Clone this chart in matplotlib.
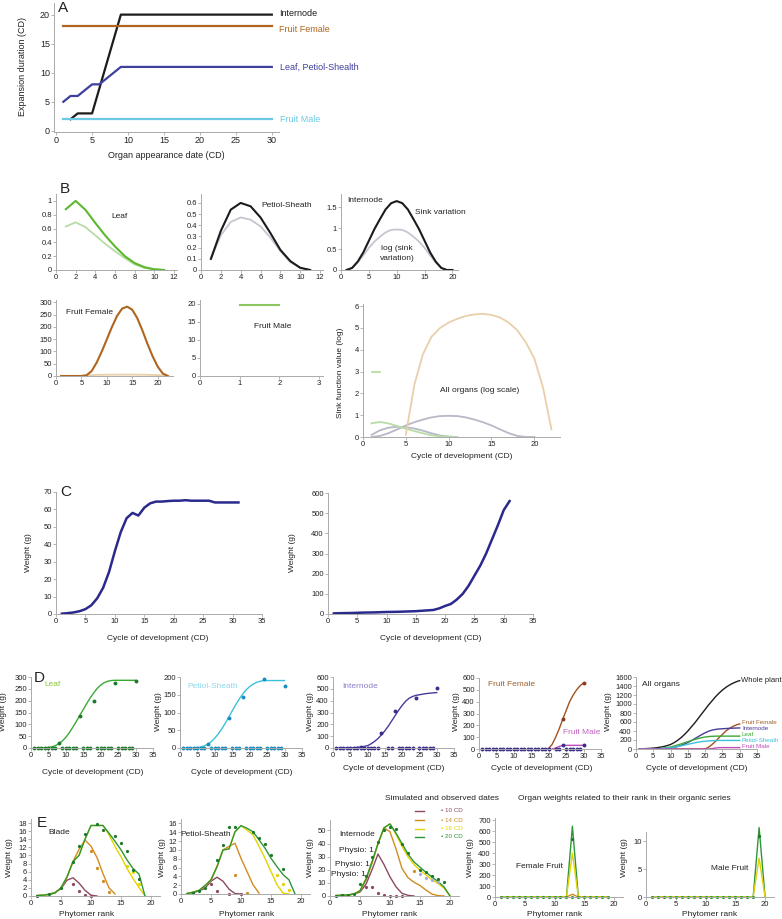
import matplotlib
matplotlib.use("Agg")
import matplotlib.pyplot as plt
from matplotlib.lines import Line2D
from matplotlib.ticker import FuncFormatter

plt.rcParams["font.family"] = ["Liberation Sans", "DejaVu Sans"]

# ---------------- data ----------------
# A: expansion duration vs organ appearance date
a_int_x = [2, 3, 5, 9, 30]
a_int_y = [2, 3, 3, 20, 20]
a_ff_x = [1, 30]
a_ff_y = [18, 18]
a_leaf_x = [1, 2, 3, 5, 6, 9, 30]
a_leaf_y = [5, 6, 6, 8, 8, 11, 11]
a_fm_x = [1, 30]
a_fm_y = [2, 2]

# B: sink variation and its log
b_leaf_x = list(range(1, 12))
b_leaf = [0.88, 1.0, 0.87, 0.68, 0.5, 0.34, 0.2, 0.1, 0.04, 0.01, 0]
b_leaf_log = [0.63, 0.69, 0.62, 0.5, 0.38, 0.27, 0.17, 0.08, 0.03, 0.01, 0]
b_pet_x = list(range(1, 12))
b_pet = [0.1, 0.35, 0.54, 0.6, 0.57, 0.47, 0.33, 0.18, 0.08, 0.02, 0]
b_pet_log = [0.1, 0.31, 0.43, 0.47, 0.45, 0.39, 0.29, 0.17, 0.07, 0.02, 0]
b_int_x = list(range(1, 21))
b_int = [0, 0.05, 0.2, 0.42, 0.7, 0.98, 1.22, 1.45, 1.6, 1.65,
         1.6, 1.45, 1.22, 0.98, 0.7, 0.42, 0.2, 0.05, 0, 0]
b_int_log = [0, 0.05, 0.18, 0.35, 0.53, 0.68, 0.8, 0.9, 0.96, 0.97,
             0.96, 0.9, 0.8, 0.68, 0.53, 0.35, 0.18, 0.05, 0, 0]
b_ff_x = list(range(1, 23))
b_ff = [0, 0, 0, 0, 0, 3, 20, 55, 100, 150, 200, 245, 275, 283,
        270, 235, 185, 130, 80, 38, 10, 0]
b_ff_log_x = list(range(5, 23))
b_ff_log = [0.1, 2.4, 3.8, 4.6, 5.0, 5.25, 5.42, 5.55, 5.62, 5.65,
            5.6, 5.48, 5.25, 4.9, 4.35, 3.6, 2.3, 0.35]
b_fm_x = [1, 2]
b_fm = [19.6, 19.6]
b_fm_log = [3.0, 3.0]

# C: whole plant weights
c_x = list(range(1, 32))
c_left = [0.2, 0.5, 0.9, 1.6, 2.8, 5, 9, 15, 24, 36, 47, 55, 58, 56.5, 61, 63.5,
          64.5, 64.5, 64.8, 65, 65, 65.3, 65, 65, 65, 65, 64, 64, 64, 64, 64]
c_right = [3, 4, 4.5, 5, 6, 7, 7.5, 8, 9, 10, 10.5, 11, 12, 13, 14, 16, 18, 20,
           28, 40, 50, 72, 100, 140, 190, 240, 300, 370, 440, 515, 560]

# D: organ weights vs cycle
cd = list(range(1, 31))
d_leaf = [0, 0.3, 0.6, 1, 2, 5, 10, 18, 30, 45, 65, 88, 112, 138, 163, 188, 212,
          233, 252, 266, 276, 282, 285, 286, 286, 286, 286, 286, 286, 286]
d_pet = [0, 0, 0.2, 0.5, 1, 3, 6, 11, 18, 28, 40, 54, 70, 87, 105, 122, 138, 152,
         164, 173, 180, 185, 188, 190, 190, 190, 190, 190, 190, 190]
d_int = [0, 0, 0.5, 1, 2, 3, 5, 8, 13, 20, 35, 55, 80, 110, 145, 185, 230, 275,
         320, 360, 395, 420, 435, 445, 450, 455, 460, 463, 466, 468]
d_ff = [0] * 19 + [5, 40, 100, 170, 250, 325, 400, 455, 500, 535, 558]
d_fm = [0] * 21 + [8, 22, 30, 31, 31, 31, 31, 31, 31]
d_wp = [5, 7, 10, 14, 20, 28, 40, 55, 75, 100, 140, 190, 250, 320, 400, 490, 580,
        680, 780, 880, 980, 1070, 1160, 1240, 1310, 1370, 1420, 1460, 1495, 1520]
obs_x = [8, 14, 18, 24, 30]
d_leaf_obs = [20, 135, 200, 275, 285]
d_pet_obs = [10, 85, 145, 195, 175]
d_int_obs = [5, 130, 310, 420, 505]
fr_obs_x = [24, 30]
d_ff_obs = [250, 555]
d_fm_obs = [33, 33]
zero_leaf = [1, 2, 3, 4, 5, 6, 7, 9, 10, 11, 12, 13, 15, 16, 17,
             19, 20, 21, 22, 23, 25, 26, 27, 28, 29]
zero_int = [1, 2, 3, 4, 5, 6, 7, 8, 9, 10, 11, 12, 13, 16, 17,
            19, 20, 21, 22, 23, 25, 26, 27, 28, 29]
zero_fr = list(range(1, 21)) + [22, 23, 25, 26, 27, 28, 29]

# E: organ weights vs phytomer rank at 10, 14, 18, 20 CD
e1_10 = [0.1, 0.2, 0.4, 0.9, 1.8, 3.9, 4.5, 3.2, 1.4, 0.2, 0]
e1_14 = [0.1, 0.2, 0.4, 0.8, 2.0, 4.6, 8.5, 11.5, 13.8, 12.3, 9.5, 5.5, 2.0, 0.5]
e1_18 = [0.1, 0.2, 0.4, 0.75, 2.0, 4.7, 8.5, 10.0, 14.0, 17.4, 17.4, 17.4,
         15.1, 12.2, 9.7, 6.8, 4.3, 2.1, 0]
e1_20 = [0.1, 0.2, 0.4, 0.75, 2.0, 4.7, 8.5, 10.0, 14.0, 17.4, 17.4, 17.4,
         15.5, 13.5, 11.4, 8.9, 6.8, 5.4, 0]
e1_g_x = [1, 3, 5, 7, 8, 9, 11, 12, 14, 15, 16, 17, 18]
e1_g = [0.1, 0.4, 2.0, 8.5, 12.3, 15.3, 17.7, 16.4, 14.9, 13.1, 11.0, 6.5, 4.3]
e1_m_x = [7, 8, 9, 10]
e1_m = [2.9, 1.2, 0.2, 0]
e1_o_x = [10, 11, 12, 13]
e1_o = [11.2, 7.0, 3.7, 0.9]
e1_y_x = [16, 17, 18]
e1_y = [7.5, 6.0, 3.0]

e2_10 = [0.1, 0.3, 0.7, 1.3, 2.9, 3.8, 2.9, 1.1, 0.1, 0]
e2_14 = [0.1, 0.4, 0.8, 1.9, 3.2, 6.2, 10.0, 10.8, 11.5, 8.1, 5.1, 2.1, 0.2]
e2_18 = [0.1, 0.4, 0.8, 1.9, 3.2, 6.2, 10.0, 10.2, 14.1, 15.5, 14.5, 13.4,
         10.8, 8.1, 5.1, 2.1, 0.2, 0]
e2_20 = [0.1, 0.4, 0.8, 1.9, 3.2, 6.2, 10.0, 10.2, 14.1, 15.5, 14.9, 14.1,
         12.3, 10.4, 8.1, 6.2, 4.4, 3.2, 0]
e2_g_x = [2, 3, 4, 6, 7, 8, 9, 12, 13, 14, 15, 17]
e2_g = [0.3, 0.6, 1.3, 7.8, 11.2, 15.2, 15.3, 14.0, 12.8, 11.4, 8.8, 5.7]
e2_m_x = [5, 6, 8, 10]
e2_m = [2.2, 0.6, 0, 0]
e2_o_x = [9, 11]
e2_o = [4.2, 0.2]
e2_y_x = [16, 17, 18]
e2_y = [4.4, 2.3, 1.0]

e3_10 = [0.3, 0.5, 0.8, 1.5, 3, 9, 20, 32, 24, 14.6, 7, 2, 0.5, 0]
e3_14 = [0.3, 0.5, 0.8, 1.5, 4, 12, 25, 40, 52, 49, 36, 21, 14, 10.5, 8,
         4.5, 1.5, 0.3, 0]
e3_18 = [0.3, 0.5, 0.8, 1.5, 4, 13, 26, 40, 52, 55, 47, 38, 30, 24, 19.5,
         16, 12.5, 9.5, 6, 0]
e3_20 = [0.3, 0.5, 0.8, 1.5, 4, 13, 26, 40, 52, 55, 48, 40, 32, 26, 22,
         18, 14.5, 11, 7, 0]
e3_g_x = [1, 2, 3, 4, 5, 6, 7, 8, 9, 10, 11, 12, 13, 15, 16, 17, 18, 19]
e3_g = [0.3, 0.5, 0.8, 1.5, 9, 15, 30, 41, 50, 53, 51, 40, 33, 20, 18, 15, 13, 11]
e3_m_x = [6, 7, 8, 9, 10, 11, 12]
e3_m = [7, 7, 2, 1, 0.3, 0.3, 0.3]
e3_o_x = [14]
e3_o = [19]
e3_y_x = [15, 16, 17, 18]
e3_y = [17, 14, 12, 11]

ranks19 = list(range(1, 20))
e4_20 = [0] * 12 + [645] + [0] * 6
e4_18 = [0] * 12 + [400] + [0] * 6
e4_14 = [0] * 12 + [25] + [0] * 6
e4_obs_x = [13]
e4_obs = [530]
ranks20 = list(range(1, 21))
e5_20 = [0] * 18 + [12.5, 0]
e5_18 = [0] * 18 + [7, 0]
e5_obs_x = [19]
e5_obs = [11]

# ---------------- colours ----------------
c_black = "#1c1c1c"
c_brown = "#b0651e"
c_blue = "#3f3f9e"
c_lblue = "#6cc8e4"
c_green = "#5cb82e"
c_lgreen = "#b8dca6"
c_lgray = "#c6c6d2"
c_lbrown = "#e9cfaa"
c_navy = "#2a2a8c"
col10, col14, col18, col20 = "#8a4a60", "#d08c20", "#e2d400", "#2e9638"

W, H = 782, 919
fig = plt.figure(figsize=(W / 100, H / 100), dpi=100)
fmt = FuncFormatter(lambda v, p: f"{v:g}")


def box(l, t, r, b):
    return fig.add_axes([l / W, 1 - b / H, (r - l) / W, (b - t) / H])


def txt(x, y, s, size=6, color="#222222", ha="center", **kw):
    fig.text(x / W, 1 - y / H, s, fontsize=size, color=color, ha=ha, va="center", **kw)


def style(ax, xlim, ylim, xticks, yticks, size=5.5):
    ax.set_xlim(*xlim)
    ax.set_ylim(*ylim)
    ax.set_xticks(xticks)
    ax.set_yticks(yticks)
    ax.xaxis.set_major_formatter(fmt)
    ax.yaxis.set_major_formatter(fmt)
    for s in ["top", "right"]:
        ax.spines[s].set_visible(False)
    for s in ["left", "bottom"]:
        ax.spines[s].set_color("#aaaaaa")
        ax.spines[s].set_linewidth(0.7)
    ax.tick_params(length=2, width=0.5, color="#999999", labelsize=size, pad=1,
                   labelcolor="#222222")
    ax.patch.set_alpha(0)


# ---------------- A ----------------
ax = box(54, 3, 279, 132)
style(ax, (-0.3, 31), (-0.2, 22), range(0, 31, 5), range(0, 21, 5), 6.5)
ax.plot(a_int_x, a_int_y, color=c_black, lw=1.6)
ax.plot(a_ff_x, a_ff_y, color=c_brown, lw=1.6)
ax.plot(a_leaf_x, a_leaf_y, color=c_blue, lw=1.6)
ax.plot(a_fm_x, a_fm_y, color=c_lblue, lw=1.6)
txt(58, 8, "A", 11, ha="left")
txt(279, 14, "Internode", 6.5, c_black, ha="left")
txt(279, 29, "Fruit Female", 6.5, c_brown, ha="left")
txt(280, 67, "Leaf, Petiol-Shealth", 6.5, c_blue, ha="left")
txt(280, 119, "Fruit Male", 6.5, c_lblue, ha="left")
txt(23, 67, "Expansion duration (CD)", 6.5, rotation=90)
txt(166, 155, "Organ appearance date (CD)", 6.5)

# ---------------- B ----------------
ax = box(56, 194, 177, 270)
style(ax, (0, 12.3), (0, 1.1), range(0, 13, 2), [0, 0.2, 0.4, 0.6, 0.8, 1])
ax.plot(b_leaf_x, b_leaf_log, color=c_lgreen, lw=1.3)
ax.plot(b_leaf_x, b_leaf, color=c_green, lw=1.5)
txt(60, 189, "B", 11, ha="left")
txt(120, 216, "Leaf")

ax = box(201, 194, 323, 270)
style(ax, (0, 12.3), (0, 0.68), range(0, 13, 2), [0, 0.1, 0.2, 0.3, 0.4, 0.5, 0.6])
ax.plot(b_pet_x, b_pet_log, color=c_lgray, lw=1.3)
ax.plot(b_pet_x, b_pet, color=c_black, lw=1.5)
txt(287, 206, "Petiol-Sheath")

ax = box(341, 194, 458, 270)
style(ax, (0, 21), (0, 1.82), range(0, 21, 5), [0, 0.5, 1, 1.5])
ax.plot(b_int_x, b_int_log, color=c_lgray, lw=1.3)
ax.plot(b_int_x, b_int, color=c_black, lw=1.5)
txt(365, 201, "Internode")
txt(440, 212, "Sink variation")
txt(397, 249, "log (sink")
txt(397, 259, "variation)")

ax = box(56, 300, 173, 376)
style(ax, (0, 23), (0, 310), range(0, 21, 5), range(0, 301, 50))
ax.plot(b_ff_log_x, b_ff_log, color=c_lbrown, lw=1.3)
ax.plot(b_ff_x, b_ff, color=c_brown, lw=1.5)
txt(89, 313, "Fruit Female")

ax = box(200, 300, 323, 376)
style(ax, (0, 3.1), (0, 21), [0, 1, 2, 3], range(0, 21, 5))
ax.plot(b_fm_x, b_fm, color="#8cc860", lw=1.5)
txt(273, 327, "Fruit Male")

ax = box(363, 304, 560, 437)
style(ax, (0, 23), (0, 6.1), range(0, 21, 5), range(0, 7))
ax.plot(b_pet_x, b_pet_log, color="#b8b8c6", lw=1.3)
ax.plot(b_int_x, b_int_log, color="#b8b8c6", lw=1.3)
ax.plot(b_leaf_x, b_leaf_log, color=c_lgreen, lw=1.3)
ax.plot(b_fm_x, b_fm_log, color=c_lgreen, lw=1.3)
ax.plot(b_ff_log_x, b_ff_log, color=c_lbrown, lw=1.3)
txt(480, 390, "All organs (log scale)")
txt(341, 373, "Sink function value (log)", rotation=90)
txt(462, 456, "Cycle of development (CD)")

# ---------------- C ----------------
ax = box(56, 492, 262, 614)
style(ax, (0, 35), (0, 70), range(0, 36, 5), range(0, 71, 10))
ax.plot(c_x, c_left, color=c_navy, lw=1.8)
txt(60, 492, "C", 11, ha="left")
txt(29, 553, "Weight (g)", rotation=90)
txt(158, 638, "Cycle of development (CD)")

ax = box(328, 493, 533, 614)
style(ax, (0, 35), (0, 600), range(0, 36, 5), range(0, 601, 100))
ax.plot(c_x, c_right, color=c_navy, lw=1.8)
txt(293, 553, "Weight (g)", rotation=90)
txt(431, 638, "Cycle of development (CD)")

# ---------------- D ----------------
dots = dict(marker="o", ms=1.8, ls="none", clip_on=False)

ax = box(31, 677, 153, 748)
style(ax, (0, 35), (0, 300), range(0, 36, 5), range(0, 301, 50), 5.5)
ax.plot(cd, d_leaf, color="#3aaa35", lw=1)
ax.plot(zero_leaf, [0] * len(zero_leaf), color="#1e7a2a", **dots)
ax.plot(obs_x, d_leaf_obs, color="#1e7a2a", **dots)
txt(52, 685, "Leaf", 6, "#8cc63f")
txt(39, 678, "D", 11)

ax = box(180, 677, 302, 748)
style(ax, (0, 35), (0, 200), range(0, 36, 5), range(0, 201, 50), 5.5)
ax.plot(cd, d_pet, color="#3cc0d8", lw=1)
ax.plot(zero_leaf, [0] * len(zero_leaf), color="#1a8cc0", **dots)
ax.plot(obs_x, d_pet_obs, color="#1a8cc0", **dots)
txt(213, 687, "Petiol-Sheath", 6, "#8fd8ee")

ax = box(333, 677, 454, 748)
style(ax, (0, 35), (0, 600), range(0, 36, 5), range(0, 601, 100), 5.5)
ax.plot(cd, d_int, color="#4a3a9a", lw=1)
ax.plot(zero_int, [0] * len(zero_int), color="#3a2f8a", **dots)
ax.plot(obs_x, d_int_obs, color="#3a2f8a", **dots)
txt(360, 687, "Internode", 6, "#8a80c8")

ax = box(479, 678, 601, 749)
style(ax, (0, 35), (0, 600), range(0, 36, 5), range(0, 601, 100), 5.5)
ax.plot(cd[18:], d_ff[18:], color="#a0521e", lw=1)
ax.plot(cd[20:], d_fm[20:], color="#c04cb8", lw=1)
ax.plot(zero_fr, [0] * len(zero_fr), color="#3a2f8a", **dots)
ax.plot(fr_obs_x, d_ff_obs, color="#8a3a1e", **dots)
ax.plot(fr_obs_x, d_fm_obs, color="#3a2f8a", **dots)
txt(512, 684, "Fruit Female", 6, "#a0622e")
txt(582, 733, "Fruit Male", 6, "#c060c0")

ax = box(636, 677, 757, 749)
style(ax, (0, 35), (0, 1600), range(0, 36, 5), range(0, 1601, 200), 5.5)
ax.plot(cd, d_wp, color=c_black, lw=1)
ax.plot(cd, d_ff, color="#a0521e", lw=1)
ax.plot(cd, d_int, color="#4a3a9a", lw=1)
ax.plot(cd, d_leaf, color="#3aaa35", lw=1)
ax.plot(cd, d_pet, color="#3cc0d8", lw=1)
ax.plot(cd, d_fm, color="#c04cb8", lw=1)
txt(661, 685, "All organs", 6)
txt(741, 681, "Whole plant", 5.5, ha="left")
txt(742, 723, "Fruit Female", 4.5, "#a0622e", ha="left")
txt(742, 728.5, "Internode", 4.5, "#4a3a9a", ha="left")
txt(742, 734.5, "Leaf", 4.5, "#3aaa35", ha="left")
txt(742, 740.5, "Petiol-Sheath", 4.5, "#3cc0d8", ha="left")
txt(742, 746, "Fruit Male", 4.5, "#c04cb8", ha="left")

for xl in [4, 159, 310, 457, 609]:
    txt(xl, 712, "Weight (g)", 6, rotation=90)
for xc, yy in [(93, 772), (242, 772), (394, 768), (542, 768), (697, 768)]:
    txt(xc, yy, "Cycle of development (CD)", 6)

# ---------------- E ----------------
small = dict(marker="o", ms=1.3, ls="none", clip_on=False)


def e_panel(ax, l10, l14, l18, l20, pts):
    ax.plot(range(1, len(l10) + 1), l10, color=col10, lw=1)
    ax.plot(range(1, len(l14) + 1), l14, color=col14, lw=1)
    ax.plot(range(1, len(l18) + 1), l18, color=col18, lw=1)
    ax.plot(range(1, len(l20) + 1), l20, color=col20, lw=1)
    for px_, py_, c in pts:
        ax.plot(px_, py_, color=c, **small)


ax = box(31, 819, 160, 896)
style(ax, (0, 21.5), (0, 19), range(0, 21, 5), range(0, 19, 2))
e_panel(ax, e1_10, e1_14, e1_18, e1_20,
        [(e1_m_x, e1_m, col10), (e1_o_x, e1_o, col14), (e1_y_x, e1_y, col18),
         (e1_g_x, e1_g, "#1e7a2a")])
txt(42, 823, "E", 11)
txt(59, 833, "Blade")

ax = box(181, 819, 310, 894)
style(ax, (0, 21.5), (0, 17), range(0, 21, 5), range(0, 17, 2))
e_panel(ax, e2_10, e2_14, e2_18, e2_20,
        [(e2_m_x, e2_m, col10), (e2_o_x, e2_o, col14), (e2_y_x, e2_y, col18),
         (e2_g_x, e2_g, "#1e7a2a")])
txt(206, 834, "Petiol-Sheath")

ax = box(330, 820, 459, 896)
style(ax, (0, 21.5), (0, 58), range(0, 21, 5), range(0, 51, 10))
e_panel(ax, e3_10, e3_14, e3_18, e3_20,
        [(e3_m_x, e3_m, col10), (e3_o_x, e3_o, col14), (e3_y_x, e3_y, "#b0a8d8"),
         (e3_g_x, e3_g, "#1e7a2a")])
txt(357, 834, "Internode")
txt(356, 850, "Physio: 1")
txt(352, 865, "Physio: 1")
txt(348, 875, "Physio: 1")

ax = box(495, 818, 623, 897)
style(ax, (0, 21.5), (0, 720), range(0, 21, 5), range(0, 701, 100))
ax.plot(ranks19, e4_14, color=col14, lw=1)
ax.plot(ranks19, e4_20, color=col20, lw=1)
ax.plot(ranks19, e4_18, color=col18, lw=1)
ax.plot(ranks19, [0] * len(ranks19), color=col20, **small)
ax.plot(e4_obs_x, e4_obs, color="#1e7a2a", **small)
txt(539, 866, "Female Fruit")

ax = box(646, 832, 774, 897)
style(ax, (0, 21.5), (0, 11.7), range(0, 21, 5), [0, 5, 10])
ax.plot(ranks20, e5_20, color=col20, lw=1, clip_on=False)
ax.plot(ranks20, e5_18, color=col18, lw=1)
ax.plot(ranks20[:18], [0] * 18, color=col20, **small)
ax.plot(e5_obs_x, e5_obs, color="#1e7a2a", **small)
txt(730, 868, "Male Fruit")

for xl in [10, 163, 310, 471, 625]:
    txt(xl, 858, "Weight (g)", 6, rotation=90)
for xc in [87, 247, 390, 555, 710]:
    txt(xc, 914, "Phytomer rank", 6)

txt(442, 799, "Simulated and observed dates", 6)
txt(624, 799, "Organ weights related to their rank in their organic series", 6)

for yy, c, lab in [(811, col10, "10 CD"), (820, col14, "14 CD"),
                   (828.5, col18, "18 CD"), (837, col20, "20 CD")]:
    fig.add_artist(Line2D([415 / W, 424 / W], [1 - yy / H, 1 - yy / H], color=c, lw=1))
    txt(441, yy, "\u2022 " + lab, 4.5, c, ha="left")

fig.savefig("out.png", dpi=100)
